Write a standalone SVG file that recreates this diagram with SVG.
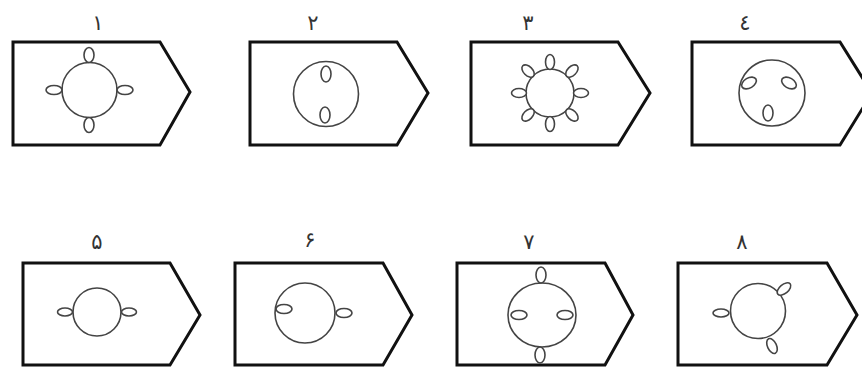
<svg xmlns="http://www.w3.org/2000/svg" width="862" height="369" viewBox="0 0 862 369">
<style>
.box{fill:#fff;stroke:#111;stroke-width:3;stroke-linejoin:miter}
.c{fill:none;stroke:#444;stroke-width:1.6}
.e{fill:#fff;stroke:#444;stroke-width:1.6}
.lbl{font-family:"DejaVu Sans",sans-serif;font-size:21px;fill:#333;text-anchor:middle}
</style>
<rect width="862" height="369" fill="#fff"/>
<g id="n1">
<polygon class="box" points="13,42 160,42 190,92 160,145 13,145"/>
<text class="lbl" x="98" y="30">۱</text>
<circle class="c" cx="89.5" cy="90" r="27.5"/>
<ellipse class="e" cx="89" cy="55" rx="5" ry="7.5"/>
<ellipse class="e" cx="89" cy="125" rx="5" ry="7.5"/>
<ellipse class="e" cx="54" cy="90" rx="8" ry="4.5"/>
<ellipse class="e" cx="125" cy="90" rx="8" ry="4.5"/>
</g>
<g id="n2">
<polygon class="box" points="250,42 397,42 428,93 397,145 250,145"/>
<text class="lbl" x="313" y="30">۲</text>
<circle class="c" cx="326" cy="94" r="32.5"/>
<ellipse class="e" cx="326" cy="74" rx="5" ry="8"/>
<ellipse class="e" cx="325" cy="115" rx="5" ry="8"/>
</g>
<g id="n3">
<polygon class="box" points="471,42 618,42 650,93 618,145 471,145"/>
<text class="lbl" x="528" y="30">۳</text>
<circle class="c" cx="550" cy="93" r="24"/>
<g transform="translate(550 93)">
<ellipse class="e" cx="0" cy="-31" rx="4.5" ry="7.5"/>
<ellipse class="e" cx="0" cy="-31" rx="4.5" ry="7.5" transform="rotate(45)"/>
<ellipse class="e" cx="0" cy="-31" rx="4.5" ry="7.5" transform="rotate(90)"/>
<ellipse class="e" cx="0" cy="-31" rx="4.5" ry="7.5" transform="rotate(135)"/>
<ellipse class="e" cx="0" cy="-31" rx="4.5" ry="7.5" transform="rotate(180)"/>
<ellipse class="e" cx="0" cy="-31" rx="4.5" ry="7.5" transform="rotate(225)"/>
<ellipse class="e" cx="0" cy="-31" rx="4.5" ry="7.5" transform="rotate(270)"/>
<ellipse class="e" cx="0" cy="-31" rx="4.5" ry="7.5" transform="rotate(315)"/>
</g>
</g>
<g id="n4">
<polygon class="box" points="692,42 840,42 872,93 840,145 692,145"/>
<text class="lbl" x="745" y="30">٤</text>
<circle class="c" cx="772" cy="93" r="33"/>
<ellipse class="e" cx="749" cy="83" rx="8" ry="5" transform="rotate(-30 749 83)"/>
<ellipse class="e" cx="789" cy="83" rx="8" ry="5" transform="rotate(30 789 83)"/>
<ellipse class="e" cx="768" cy="113" rx="5" ry="8"/>
</g>
<g id="n5">
<polygon class="box" points="23,263 170,263 200,315 170,365 23,365"/>
<text class="lbl" x="97" y="249">۵</text>
<circle class="c" cx="97" cy="312" r="24"/>
<ellipse class="e" cx="65" cy="312" rx="7.5" ry="4"/>
<ellipse class="e" cx="129" cy="312" rx="7.5" ry="4"/>
</g>
<g id="n6">
<polygon class="box" points="235,263 383,263 412,315 383,365 235,365"/>
<text class="lbl" x="310" y="247">۶</text>
<circle class="c" cx="305" cy="313" r="30"/>
<ellipse class="e" cx="284" cy="309" rx="8" ry="4.5"/>
<ellipse class="e" cx="344" cy="313" rx="8" ry="4.5"/>
</g>
<g id="n7">
<polygon class="box" points="457,263 605,263 633,315 605,365 457,365"/>
<text class="lbl" x="529" y="249">۷</text>
<ellipse class="c" cx="542" cy="315" rx="34" ry="32"/>
<ellipse class="e" cx="541" cy="275" rx="5" ry="8"/>
<ellipse class="e" cx="540" cy="355" rx="5" ry="8"/>
<ellipse class="e" cx="519" cy="315" rx="8" ry="4.5"/>
<ellipse class="e" cx="565" cy="315" rx="8" ry="4.5"/>
</g>
<g id="n8">
<polygon class="box" points="678,263 827,263 857,315 827,365 678,365"/>
<text class="lbl" x="742" y="249">۸</text>
<circle class="c" cx="758" cy="311" r="27.5"/>
<ellipse class="e" cx="721" cy="313" rx="8" ry="4"/>
<ellipse class="e" cx="784" cy="289" rx="8" ry="4.5" transform="rotate(-40 784 289)"/>
<ellipse class="e" cx="772" cy="346" rx="8" ry="4.5" transform="rotate(65 772 346)"/>
</g>
<g id="connectors"></g>
</svg>
